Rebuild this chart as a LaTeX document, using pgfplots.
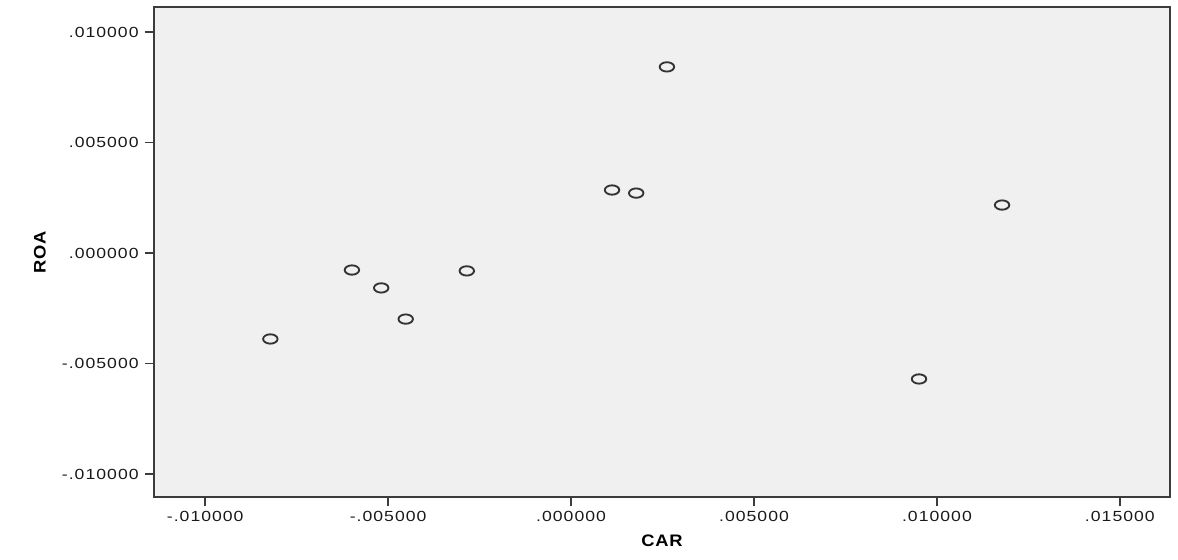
\documentclass[border=0pt]{standalone}
\usepackage{pgfplots}
\pgfplotsset{compat=1.18}
\usepackage{fontspec}
\setmainfont{Liberation Sans}
\newfontfamily\spss[FakeStretch=1.2,LetterSpace=7]{Liberation Sans}
\newfontfamily\spssb[FakeStretch=1.1,LetterSpace=4]{Liberation Sans Bold}
\definecolor{bgc}{HTML}{F0F0F0}
\definecolor{frm}{HTML}{3C3C3C}
\begin{document}
\begin{tikzpicture}
\begin{axis}[
  scale only axis,
  width=762pt, height=367.5pt,
  xmin=-0.0114, xmax=0.01637,
  ymin=-0.01104, ymax=0.01113,
  axis background/.style={fill=bgc},
  axis line style={draw=frm, line width=1.2pt},
  every tick/.style={draw=frm, line width=1.2pt},
  tick align=outside,
  major tick length=7pt,
  xtick pos=bottom, ytick pos=left,
  xtick={-0.01,-0.005,0,0.005,0.01,0.015},
  xticklabels={-.010000,-.005000,.000000,.005000,.010000,.015000},
  ytick={-0.01,-0.005,0,0.005,0.01},
  yticklabels={-.010000,-.005000,.000000,.005000,.010000},
  scaled x ticks=false, scaled y ticks=false,
  tick label style={font=\spss\fontsize{11}{12}\selectfont, text=black!90},
  yticklabel style={xshift=-1pt},
  xlabel={CAR}, ylabel={ROA},
  xlabel style={at={([yshift=-33pt]rel axis cs:0.5,0)}, anchor=center, font=\spssb\fontsize{12.5}{14}\selectfont},
  ylabel style={at={([xshift=-85.5pt]rel axis cs:0,0.5)}, anchor=center, font=\spssb\fontsize{12.5}{14}\selectfont},
  clip=false,
]
\addplot[only marks, mark=o, mark size=3.5pt, mark options={xscale=1.55, draw=black!80, line width=1.4pt}] coordinates {
  (-0.00822, -0.00389)
  (-0.00599, -0.00077)
  (-0.00519, -0.00158)
  (-0.00452, -0.00299)
  (-0.00285, -0.00081)
  ( 0.00112,  0.00285)
  ( 0.00178,  0.00271)
  ( 0.00262,  0.00842)
  ( 0.00951, -0.00570)
  ( 0.01178,  0.00217)
};
\end{axis}
\pgfresetboundingbox
\path[use as bounding box] ([shift={(-115.5pt,-46.5pt)}]current axis.south west) rectangle ([shift={(6pt,5.25pt)}]current axis.north east);
\end{tikzpicture}
\end{document}
